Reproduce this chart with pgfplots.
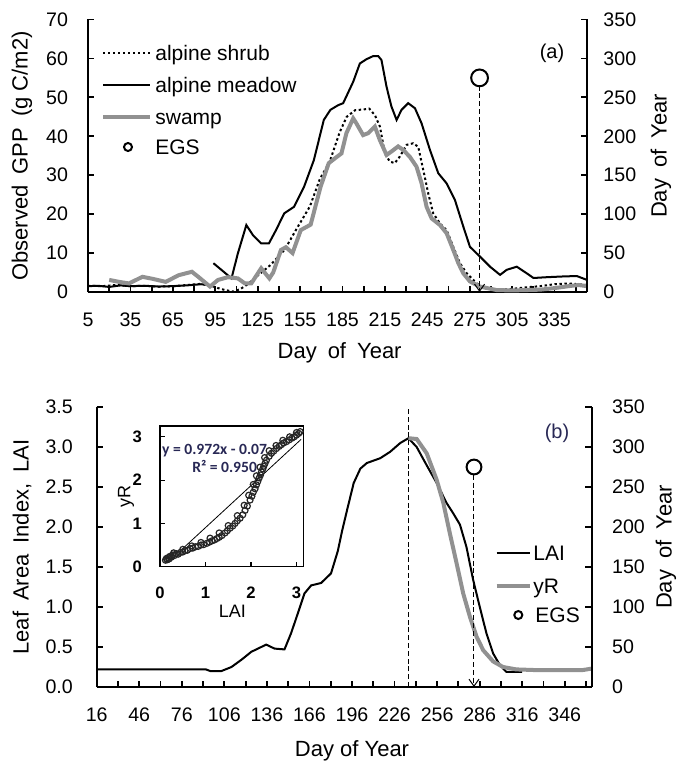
\documentclass[border=0pt]{standalone}
\usepackage{fontspec}
\setmainfont{Liberation Sans}
\newfontfamily\calibri{Carlito}
\usepackage{pgfplots}
\pgfplotsset{compat=1.18}
\usetikzlibrary{arrows.meta}

\definecolor{swampgray}{RGB}{145,145,145}
\definecolor{eqnavy}{RGB}{40,40,85}

\pgfplotsset{
  base/.style={
    scale only axis, anchor=south west, clip=false,
    axis line style={line width=0.9pt},
    tick style={line width=0.9pt, black},
    major tick length=3.2pt, minor tick length=3.2pt,
    tick align=inside,
    ticklabel style={font=\fontsize{9.8}{12}\selectfont},
    /pgf/number format/assume math mode=true,
  },
  egs/.style={black, line width=0.5pt, dash pattern=on 2.5pt off 1.4pt,
    -{Straight Barb[length=3.5pt,width=5pt,line width=0.5pt]}},
}

\begin{document}
\begin{tikzpicture}
\path[use as bounding box] (0,0) rectangle (338pt,-382.5pt);

% ---------- panel (a) ----------
\begin{axis}[base, at={(44pt,-146pt)}, width=249.5pt, height=136.25pt,
  xmin=5, xmax=358, ymin=0, ymax=70,
  axis x line*=bottom, axis y line*=left,
  xtick={5,35,...,335}, minor xtick={20,50,...,350},
  ytick={0,10,...,70},
  xticklabel style={yshift=-7pt}, yticklabel style={xshift=-6.5pt}]
% alpine shrub
\addplot[black, line width=1pt, dash pattern=on 1.2pt off 1.3pt] coordinates {
(5,1.6) (15,1.5) (25,1.8) (35,1.5) (45,1.6) (55,1.4) (65,1.5) (75,1.8) (85,2.1)
(92,1.6) (97,1.0) (102,0.5) (108,0.1) (113,0.8) (118,2.0) (125,4.2) (134,6.9)
(144,10.8) (153,16.5) (162,22) (169,29) (176,33.5) (183,41) (188,45) (194,46.7)
(200,46.9) (204,47.1) (208,45.4) (211.5,42.5) (215,35.6) (218.5,33.5) (222,33.1)
(225.6,34.8) (230.4,37.8) (235,38.2) (238.6,37.3) (242.2,31.3) (245.7,25.3)
(249.2,20.2) (254,17.6) (258.7,15.9) (263.4,11.6) (268.1,7.4) (272.9,4.8)
(280,2.2) (285,1.0) (295,0.5) (305,0.8) (315,1.2) (325,1.5) (335,2.0) (345,2.2)
(352,2.0) (358,1.8)};
% alpine meadow
\addplot[black, line width=1pt] coordinates {
(5,1.5) (12,1.6) (20,1.3) (28,1.7) (35,1.5) (45,1.6) (55,1.4) (65,1.5) (75,1.7)
(85,2.0) (90,1.8)};
\addplot[black, line width=1pt] coordinates {
(93.7,7.4) (100,5.5) (106.5,3.5) (111,9.9) (117,17.2) (121.7,14.6) (127.5,12.5)
(133,12.5) (138,15.9) (143.8,20.2) (150.8,21.9) (157.8,27) (164.8,33.9)
(171.8,44.2) (176.5,46.8) (182,48) (185.5,48.5) (192.6,54.0) (197.3,58.7)
(202,59.8) (206.7,60.6) (210.3,60.6) (212.6,59.6) (216.2,52.7) (219.7,47.6)
(223.3,44.2) (226.8,46.8) (231.5,48.5) (236.3,47.2) (241,43.3) (246.9,36.5)
(252.8,30.5) (258.7,27.9) (264.6,23.6) (270.5,16.8) (275.2,11.6) (282.3,9.1)
(289.4,6.5) (296.5,4.4) (301.2,5.7) (308.3,6.5) (315.4,4.8) (320.1,3.6)
(329.5,3.8) (341.4,4.0) (350.8,4.1) (358,3.1)};
% swamp
\addplot[swampgray, line width=2pt] coordinates {
(20,3.1) (27,2.6) (34,2.2) (43.5,3.9) (50.5,3.4) (60,2.6) (69,4.3) (78.5,5.2)
(83,3.9) (91.3,1.4) (97,3.1) (104,3.8) (111,3.5) (116,2.2) (120.5,2.2)
(127.5,6.1) (133.3,3.5) (136,5) (141.5,10.8) (145,11.5) (149.7,10.0)
(155.5,15.9) (162.5,17.3) (169.5,27.0) (175.3,33.1) (181,34.7) (184.3,35.6)
(187.8,40.8) (192.6,44.6) (194.9,43.3) (199.6,40.3) (203.2,40.8) (207.9,42.5)
(211.5,39.0) (216.2,35.2) (219.7,36.1) (224.4,37.4) (228,36.5) (232.7,34.7)
(237.4,32.2) (241,27.9) (244.5,21.9) (248.1,18.9) (254,17.2) (258.7,15.1)
(263.4,10.8) (267,7.4) (270.5,4.8) (275.2,2.7) (282.3,1.4) (294,0.5) (305,0.4)
(315,0.5) (325,0.6) (335,1.0) (345,1.5) (352,1.8) (358,1.5)};
\end{axis}
\begin{axis}[base, at={(44pt,-146pt)}, width=249.5pt, height=136.25pt,
  xmin=5, xmax=358, ymin=0, ymax=350,
  axis y line*=right, axis x line=none,
  ytick={0,50,...,350}, yticklabel style={xshift=4.7pt}]
\addplot[egs] coordinates {(282,275) (282,0)};
\addplot[only marks, mark=*, mark size=4.2pt,
  mark options={fill=white, draw=black, line width=1pt}] coordinates {(282,275)};
\end{axis}

% legend (a)
\draw[black, line width=1pt, dash pattern=on 1.2pt off 1.3pt] (51.5pt,-26.5pt) -- (75pt,-26.5pt);
\draw[black, line width=1pt] (51.5pt,-42.5pt) -- (75pt,-42.5pt);
\draw[swampgray, line width=2pt] (51.5pt,-58.5pt) -- (75pt,-58.5pt);
\draw[black, line width=1pt] (64pt,-73.5pt) circle (2pt);
\begin{scope}[every node/.style={anchor=base west, inner sep=0pt, font=\fontsize{10.5}{12}\selectfont}]
\node at (77.5pt,-30.2pt) {alpine shrub};
\node at (77.5pt,-46.2pt) {alpine meadow};
\node at (77.5pt,-62.2pt) {swamp};
\node at (77.5pt,-77.2pt) {EGS};
\end{scope}
\node[font=\fontsize{10}{12}\selectfont] at (276pt,-26.5pt) {(a)};
\begin{scope}[every node/.style={font=\fontsize{11}{13}\selectfont}]
\node[rotate=90] at (11pt,-78pt) {Observed\enspace GPP\enspace (g C/m2)};
\node[rotate=90] at (330.5pt,-78pt) {Day\enspace of\enspace Year};
\node at (169.8pt,-176.5pt) {Day\enspace of\enspace Year};
\end{scope}

% ---------- panel (b) ----------
\begin{axis}[base, at={(48.35pt,-343.5pt)}, width=247.5pt, height=140pt,
  xmin=16, xmax=365, ymin=0, ymax=3.5,
  axis x line*=bottom, axis y line*=left,
  xtick={16,46,...,346}, minor xtick={31,61,...,361},
  ytick={0,0.5,1,1.5,2,2.5,3,3.5},
  yticklabel style={/pgf/number format/.cd, fixed, fixed zerofill, precision=1,
    /tikz/.cd, xshift=-8.4pt},
  xticklabel style={yshift=-7pt}]
% LAI
\addplot[black, line width=1pt] coordinates {
(16,0.22) (30,0.22) (50,0.22) (70,0.22) (93,0.22) (96,0.2) (104,0.2) (111,0.25)
(118,0.34) (125,0.44) (132,0.5) (135.5,0.53) (141.4,0.48) (148.4,0.47) (153,0.67)
(157.8,0.92) (162.5,1.17) (167.2,1.27) (174.2,1.30) (181.2,1.42) (186,1.7)
(189,1.95) (192.5,2.21) (197.2,2.55) (201.9,2.73) (206.5,2.80) (211.2,2.83)
(215.9,2.86) (222.9,2.94) (230,3.05) (235.8,3.11) (241.6,3.00) (248.7,2.77)
(255.7,2.55) (262.7,2.30) (267.4,2.17) (272.1,2.03) (276.7,1.75) (281.4,1.34)
(286.1,1.00) (290.8,0.67) (295.5,0.42) (300.2,0.275) (304.8,0.19) (311.8,0.19)
(316,0.19)};
% yR
\addplot[swampgray, line width=2pt] coordinates {
(235.8,3.11) (241.6,3.10) (248.7,2.92) (255.7,2.59) (260.4,2.30) (265,1.92)
(269.7,1.55) (274.4,1.17) (279.1,0.88) (283.8,0.63) (288.5,0.46) (295.5,0.32)
(302.5,0.25) (311.8,0.22) (328,0.21) (345,0.21) (358,0.21) (365,0.23)};
% peak line
\addplot[black, line width=0.5pt, dash pattern=on 2.5pt off 1.4pt] coordinates {(236,0) (236,3.5)};
\end{axis}
\begin{axis}[base, at={(48.35pt,-343.5pt)}, width=247.5pt, height=140pt,
  xmin=16, xmax=365, ymin=0, ymax=350,
  axis y line*=right, axis x line=none,
  ytick={0,50,...,350}, yticklabel style={xshift=6.7pt}]
\addplot[egs] coordinates {(282,275) (282,0)};
\addplot[only marks, mark=*, mark size=3.7pt,
  mark options={fill=white, draw=black, line width=1pt}] coordinates {(282,275)};
\end{axis}

% inset
\begin{axis}[at={(80pt,-283.35pt)}, anchor=south west, scale only axis,
  width=71.65pt, height=70.35pt,
  xmin=0, xmax=3.15, ymin=0, ymax=3.25,
  xtick={0,1,2,3}, ytick={0,1,2,3}, xtick pos=left, ytick pos=left,
  tick align=inside, major tick length=2.5pt,
  tick style={line width=0.6pt, black},
  axis line style={line width=0.7pt},
  axis background/.style={fill=white},
  /pgf/number format/assume math mode=true,
  ticklabel style={font=\bfseries\fontsize{8.3}{10}\selectfont},
  xticklabel style={yshift=-6.5pt}, yticklabel style={xshift=-5.5pt}]
\addplot[black, line width=0.4pt] coordinates {(0.45,0.37) (3.1,2.94)};
\node[font=\calibri\bfseries\fontsize{7.8}{9}\selectfont, text=eqnavy]
  at (axis cs:1.2,2.69) {y = 0.972x - 0.07};
\node[font=\calibri\bfseries\fontsize{7.8}{9}\selectfont, text=eqnavy]
  at (axis cs:1.42,2.31) {R² = 0.950};
\addplot[only marks, mark=o, mark size=1.5pt,
  mark options={line width=0.6pt, draw=black!85}] coordinates {
(0.12,0.15) (0.14,0.19) (0.16,0.16) (0.18,0.21) (0.2,0.18) (0.22,0.24) (0.25,0.22)
(0.28,0.27) (0.32,0.26) (0.36,0.3) (0.4,0.29) (0.45,0.33) (0.5,0.34) (0.55,0.37)
(0.6,0.38) (0.66,0.42) (0.72,0.43) (0.78,0.46) (0.84,0.47) (0.9,0.5) (0.96,0.51)
(1.03,0.54) (1.09,0.57) (1.15,0.6) (1.2,0.62) (1.25,0.65) (1.3,0.68) (1.36,0.72)
(1.43,0.78) (1.48,0.83) (1.54,0.89) (1.6,0.94) (1.65,1.0) (1.7,1.06) (1.76,1.12)
(1.82,1.2) (1.87,1.3) (1.92,1.4) (1.98,1.54) (2.02,1.63) (2.05,1.72) (2.09,1.8)
(2.12,1.89) (2.15,1.97) (2.18,2.05) (2.21,2.12) (2.23,2.19) (2.26,2.26) (2.28,2.32)
(2.31,2.39) (2.34,2.46) (2.4,2.55) (2.45,2.62) (2.5,2.67) (2.56,2.73) (2.62,2.78)
(2.67,2.82) (2.72,2.86) (2.78,2.89) (2.84,2.93) (2.9,2.97) (2.95,3.0) (3.0,3.04)
(3.05,3.08) (3.08,3.12)
(0.3,0.32) (0.5,0.4) (0.7,0.48) (0.9,0.56) (1.1,0.66) (1.3,0.78) (1.5,0.95)
(1.7,1.18) (1.85,1.42) (1.95,1.65) (2.05,1.9) (2.12,2.1) (2.2,2.3) (2.3,2.52)
(2.4,2.68) (2.55,2.8) (2.7,2.92) (2.85,3.0) (3.0,3.1)};
\end{axis}
\node[font=\fontsize{9}{11}\selectfont] at (116.2pt,-305.9pt) {LAI};
\node[font=\fontsize{9}{11}\selectfont, rotate=90] at (63pt,-248.3pt) {yR};

% legend (b)
\draw[black, line width=1pt] (248.35pt,-276.5pt) -- (265pt,-276.5pt);
\draw[swampgray, line width=2pt] (248.35pt,-293pt) -- (265pt,-293pt);
\draw[black, line width=1pt] (259.15pt,-307.5pt) circle (2pt);
\begin{scope}[every node/.style={anchor=base west, inner sep=0pt, font=\fontsize{10.5}{12}\selectfont}]
\node at (266.5pt,-280.2pt) {LAI};
\node at (266.5pt,-296.7pt) {yR};
\node at (267.5pt,-311.2pt) {EGS};
\end{scope}
\node[font=\fontsize{10}{12}\selectfont, text=eqnavy] at (278.5pt,-216.5pt) {(b)};
\begin{scope}[every node/.style={font=\fontsize{11}{13}\selectfont}]
\node[rotate=90] at (11pt,-273.5pt) {Leaf\enspace Area\enspace Index,\enspace LAI};
\node[rotate=90] at (333pt,-273.5pt) {Day\enspace of\enspace Year};
\node at (176pt,-375.5pt) {Day of Year};
\end{scope}
\end{tikzpicture}
\end{document}
